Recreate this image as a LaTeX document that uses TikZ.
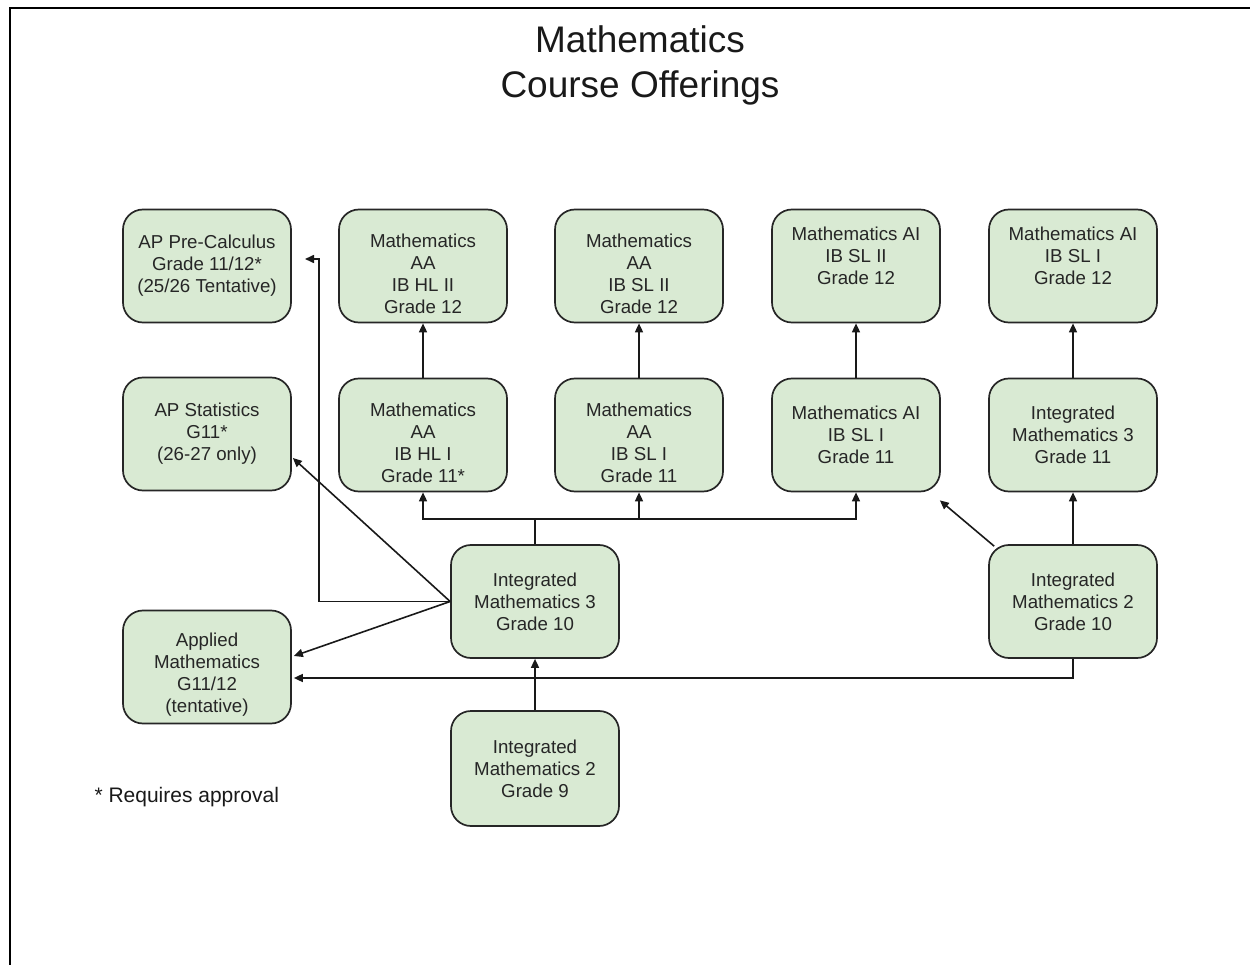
\documentclass[tikz,border=0pt]{standalone}
\usepackage{fontspec}
\setmainfont{Liberation Sans}
\usetikzlibrary{arrows.meta}
\definecolor{boxgreen}{HTML}{D9EAD3}
\begin{document}
\begin{tikzpicture}[x=1pt,y=-1pt,
  box/.style={draw=black!85, fill=boxgreen, rounded corners=20pt, minimum width=168pt, minimum height=113pt,
    align=center, font=\fontsize{18.7}{22}\selectfont, line width=1.7pt, inner sep=0pt, text=black!85},
  boxtext/.style={align=center, font=\fontsize{18.7}{22}\selectfont, text=black!85, inner sep=0pt},
  up/.style={label={[boxtext, yshift=10pt]center:#1}},
  down/.style={label={[boxtext, yshift=-7.5pt]center:#1}},
  conn/.style={line width=1.6pt, draw=black!90},
  arr/.style={conn, -{Triangle[length=9pt,width=8pt]}},
  frame/.style={line width=2.5pt, draw=black}]
\useasboundingbox (0,0) rectangle (1250,965);
\draw[frame] (10,965) -- (10,8) -- (1250,8);

% title
\node[font=\fontsize{37}{45}\selectfont, align=center, text=black!90] (title) at (640,65) {Mathematics\\Course Offerings};

% row 1
\node[box] (precalc) at (207,266) {AP Pre-Calculus\\Grade 11/12*\\(25/26 Tentative)};
\node[box, down={Mathematics\\AA\\IB HL II\\Grade 12}] (hl2) at (423,266) {};
\node[box, down={Mathematics\\AA\\IB SL II\\Grade 12}] (sl2) at (639,266) {};
\node[box, up={Mathematics AI\\IB SL II\\Grade 12}] (ai2) at (856,266) {};
\node[box, up={Mathematics AI\\IB SL I\\Grade 12}] (ai12) at (1073,266) {};

% row 2
\node[box] (stats) at (207,434) {AP Statistics\\G11*\\(26-27 only)};
\node[box, down={Mathematics\\AA\\IB HL I\\Grade 11*}] (hl1) at (423,435) {};
\node[box, down={Mathematics\\AA\\IB SL I\\Grade 11}] (sl1) at (639,435) {};
\node[box] (ai1) at (856,435) {Mathematics AI\\IB SL I\\Grade 11};
\node[box] (im3b) at (1073,435) {Integrated\\Mathematics 3\\Grade 11};

% row 3
\node[box] (im3) at (535,601.5) {Integrated\\Mathematics 3\\Grade 10};
\node[box] (im2b) at (1073,601.5) {Integrated\\Mathematics 2\\Grade 10};
\node[box, down={Applied\\Mathematics\\G11/12\\(tentative)}] (applied) at (207,667) {};

% row 4
\node[box, minimum height=115pt] (im2) at (535,768.5) {Integrated\\Mathematics 2\\Grade 9};

% footnote
\node[anchor=west, font=\fontsize{21}{25}\selectfont, text=black!90] (note) at (91,797) {* Requires approval};

% vertical upgrades
\draw[arr] (hl1) -- (hl2);
\draw[arr] (sl1) -- (sl2);
\draw[arr] (ai1) -- (ai2);
\draw[arr] (im3b) -- (ai12);
\draw[arr] (im2b) -- (im3b);
\draw[arr] (im2) -- (im3);

% from Integrated Math 3 Grade 10 up
\coordinate (j) at (535,519);
\draw[conn] (im3.north) -- (j);
\draw[arr] (j) -| (hl1.south);
\draw[arr] (j) -| (sl1.south);
\draw[arr] (j) -| (ai1.south);

% from Integrated Math 3 Grade 10 left
\coordinate (pcturn) at (319,601.5);
\coordinate (pcend) at (305,259);
\draw[arr] (im3.west) -- (pcturn) |- (pcend);
\draw[arr] (im3.west) -- ([yshift=-24pt,xshift=1pt]stats.east);
\draw[arr] (im3.west) -- ([yshift=11pt,xshift=2pt]applied.east);

% from Integrated Math 2 Grade 10
\draw[arr] (im2b.south) |- ([yshift=-11pt,xshift=2pt]applied.east);
\draw[arr] ([xshift=6pt,yshift=-2pt]im2b.north west) -- ([xshift=-1pt,yshift=-8pt]ai1.south east);
\end{tikzpicture}
\end{document}
